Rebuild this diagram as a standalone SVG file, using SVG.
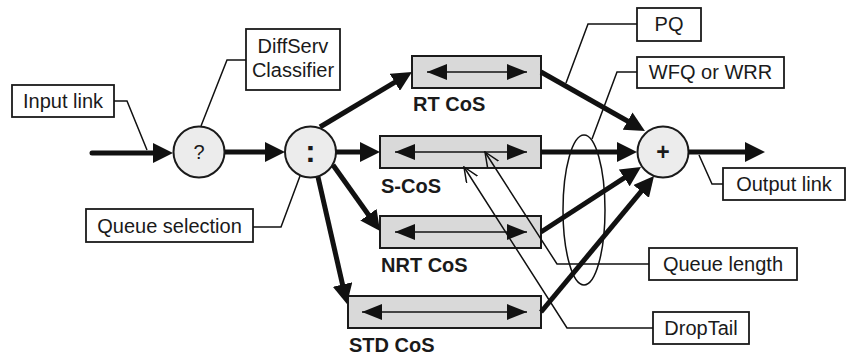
<svg xmlns="http://www.w3.org/2000/svg" width="849" height="360" viewBox="0 0 849 360">
  <style>
    text { font-family: "Liberation Sans", Arial, sans-serif; font-size: 20px; fill: #1a1a1a; }
    .lbl { text-anchor: middle; }
    .qname { font-weight: bold; }
    .box { fill: #ffffff; stroke: #1a1a1a; stroke-width: 1.8; }
    .queue { fill: #d9d9d9; stroke: #1a1a1a; stroke-width: 2; }
    .op { fill: #ececec; stroke: #1a1a1a; stroke-width: 2; }
    .flow { fill: none; stroke: #111111; stroke-width: 5; marker-end: url(#head); }
    .inner { fill: none; stroke: #111111; stroke-width: 1.5; marker-start: url(#small); marker-end: url(#small); }
    .callout { fill: none; stroke: #111111; stroke-width: 1.5; }
    .pointer { marker-end: url(#open); }
  </style>
  <defs>
    <marker id="head" viewBox="0 0 20 20" refX="12" refY="10" markerWidth="20" markerHeight="20" markerUnits="userSpaceOnUse" orient="auto">
      <path d="M0,0 L20,10 L0,20 Z" fill="#111111"/>
    </marker>
    <marker id="small" viewBox="0 0 20 16" refX="20" refY="8" markerWidth="20" markerHeight="16" markerUnits="userSpaceOnUse" orient="auto-start-reverse">
      <path d="M0,0 L20,8 L0,16 Z" fill="#111111"/>
    </marker>
    <marker id="open" viewBox="0 0 16 14" refX="15" refY="7" markerWidth="16" markerHeight="14" markerUnits="userSpaceOnUse" orient="auto">
      <path d="M0,0.5 L15,7 L0,13.5" fill="none" stroke="#111111" stroke-width="1.5"/>
    </marker>
  </defs>

  <!-- queues -->
  <g id="rt-cos">
    <rect class="queue" x="412" y="56" width="129" height="32"/>
    <line class="inner" x1="427" y1="72" x2="527" y2="72"/>
    <text class="qname" x="413" y="111">RT CoS</text>
  </g>
  <g id="s-cos">
    <rect class="queue" x="380" y="136" width="161" height="32"/>
    <line class="inner" x1="395" y1="152" x2="527" y2="152"/>
    <text class="qname" x="381" y="193">S-CoS</text>
  </g>
  <g id="nrt-cos">
    <rect class="queue" x="380" y="216" width="161" height="32"/>
    <line class="inner" x1="395" y1="232" x2="527" y2="232"/>
    <text class="qname" x="381" y="272">NRT CoS</text>
  </g>
  <g id="std-cos">
    <rect class="queue" x="348" y="296" width="193" height="32"/>
    <line class="inner" x1="362" y1="312" x2="527" y2="312"/>
    <text class="qname" x="349" y="352">STD CoS</text>
  </g>

  <!-- operators -->
  <g id="classifier">
    <circle class="op" cx="199" cy="152" r="25.5"/>
    <text class="lbl" x="199" y="159">?</text>
  </g>
  <g id="selector">
    <circle class="op" cx="310.5" cy="152" r="25.5"/>
    <text class="lbl" x="310.5" y="162" style="font-size:31px;font-weight:bold">:</text>
  </g>
  <g id="scheduler">
    <circle class="op" cx="663" cy="152" r="25.5"/>
    <text class="lbl" x="663" y="160" style="font-size:23px;font-weight:bold">+</text>
  </g>

  <!-- traffic flow -->
  <g id="connectors">
    <line class="flow" x1="92" y1="153" x2="165" y2="153" stroke-linecap="round"/>
    <line class="flow" x1="225" y1="152" x2="277" y2="152"/>
    <line class="flow" x1="320" y1="127" x2="405.1" y2="76.1"/>
    <line class="flow" x1="336" y1="152" x2="372" y2="152"/>
    <line class="flow" x1="333" y1="165" x2="375.4" y2="224.5"/>
    <line class="flow" x1="318" y1="177" x2="345.2" y2="296.2"/>
    <line class="flow" x1="541" y1="72" x2="638" y2="127"/>
    <line class="flow" x1="541" y1="152" x2="629" y2="152"/>
    <line class="flow" x1="541" y1="232" x2="634.3" y2="171.4"/>
    <line class="flow" x1="541" y1="312" x2="648.9" y2="182.2"/>
    <line class="flow" x1="688" y1="152" x2="757" y2="152"/>
  </g>

  <!-- scheduler grouping -->
  <ellipse id="fair-group" cx="584" cy="210" rx="21" ry="75" fill="none" stroke="#111111" stroke-width="1.5"/>

  <!-- annotation boxes -->
  <g id="input-link">
    <rect class="box" x="12" y="85" width="102" height="32"/>
    <text class="lbl" x="63" y="108">Input link</text>
    <polyline class="callout" points="114,101 127,101 147,150"/>
  </g>
  <g id="diffserv-classifier">
    <rect class="box" x="246" y="29" width="94" height="61"/>
    <text class="lbl" x="293" y="53">DiffServ</text>
    <text class="lbl" x="293" y="77">Classifier</text>
    <polyline class="callout" points="246,60 227,60 201,126"/>
  </g>
  <g id="queue-selection">
    <rect class="box" x="86" y="209" width="167" height="33"/>
    <text class="lbl" x="169.5" y="233">Queue selection</text>
    <polyline class="callout" points="253,227 281,227 300,176"/>
  </g>
  <g id="pq">
    <rect class="box" x="637" y="8" width="64" height="33"/>
    <text class="lbl" x="669" y="31">PQ</text>
    <polyline class="callout" points="637,24 588,24 566,83"/>
  </g>
  <g id="wfq-wrr">
    <rect class="box" x="637" y="57" width="147" height="31"/>
    <text class="lbl" x="710.5" y="79">WFQ or WRR</text>
    <polyline class="callout" points="637,72 617,72 592,139"/>
  </g>
  <g id="output-link">
    <rect class="box" x="723" y="168" width="122" height="32"/>
    <text class="lbl" x="784" y="191">Output link</text>
    <polyline class="callout" points="723,184 712,184 699,155"/>
  </g>
  <g id="queue-length">
    <rect class="box" x="649" y="248" width="148" height="32"/>
    <text class="lbl" x="723" y="271">Queue length</text>
    <polyline class="callout pointer" points="649,264 557,264 485,152"/>
  </g>
  <g id="droptail">
    <rect class="box" x="653" y="312" width="96" height="32"/>
    <text class="lbl" x="701" y="335">DropTail</text>
    <polyline class="callout pointer" points="653,328 567,328 464,167"/>
  </g>
</svg>
